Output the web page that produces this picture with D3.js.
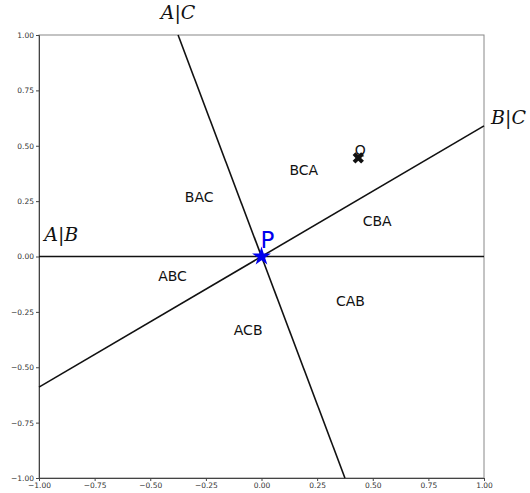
<!DOCTYPE html>
<html>
<head>
<meta charset="utf-8">
<script src="https://cdn.jsdelivr.net/npm/d3@7"></script>
<style>
body { margin: 0; background: #fff; }
svg text { font-family: "DejaVu Sans", sans-serif; }
.ax text { font-size: 7.5px; fill: #333; }
</style>
</head>
<body>
<div id="chart"></div>
<script>
// data
var ticks = [-1, -0.75, -0.5, -0.25, 0, 0.25, 0.5, 0.75, 1];
// separating lines, each as two end points
var lineNames = ['A|B', 'A|C', 'B|C'];
var lineEnds = [
    [[-1, 0], [1, 0]],
    [[-0.375, 1], [0.375, -1]],
    [[-1, -0.59], [1, 0.59]]
];
var regionNames = ['BAC', 'BCA', 'CBA', 'ABC', 'ACB', 'CAB'];
var regionPos = [[-0.28, 0.27], [0.19, 0.39], [0.52, 0.16], [-0.4, -0.09], [-0.06, -0.33], [0.4, -0.2]];
var pointP = [0, 0];
var pointQ = [0.435, 0.445];

var width = 530, height = 493;
var mLeft = 39, mRight = 484, mTop = 35, mBottom = 478;

var svg = d3.select('#chart').append('svg')
    .attr('width', width)
    .attr('height', height)

var x = d3.scaleLinear().domain([-1, 1]).range([mLeft, mRight]);
var y = d3.scaleLinear().domain([-1, 1]).range([mBottom, mTop]);

var fmt = d => d3.format('.2f')(d).replace('-', '\u2212');

// frame
svg.append('rect')
    .attr('x', mLeft).attr('y', mTop)
    .attr('width', mRight - mLeft).attr('height', mBottom - mTop)
    .attr('fill', 'none')
    .attr('stroke', '#888')
    .attr('stroke-width', 1)

// axes
svg.append('g').attr('class', 'ax')
    .attr('transform', 'translate(0,' + mBottom + ')')
    .call(d3.axisBottom(x).tickValues(ticks).tickFormat(fmt).tickSize(3).tickPadding(2))
svg.append('g').attr('class', 'ax')
    .attr('transform', 'translate(' + mLeft + ',0)')
    .call(d3.axisLeft(y).tickValues(ticks).tickFormat(fmt).tickSize(3).tickPadding(2))
svg.selectAll('.ax .domain').attr('stroke', '#444')
svg.selectAll('.ax .tick line').attr('stroke', '#444')

// lines
svg.selectAll('.sep')
    .data(lineEnds)
    .join('line')
    .attr('x1', d => x(d[0][0])).attr('y1', d => y(d[0][1]))
    .attr('x2', d => x(d[1][0])).attr('y2', d => y(d[1][1]))
    .attr('stroke', '#111')
    .attr('stroke-width', 1.6)

// line labels (math style)
var labelPos = [[-0.9, 0.07], [-0.375, 1.07], [1.11, 0.6]];
svg.selectAll('.linelabel')
    .data(lineNames)
    .join('text')
    .attr('x', (d, i) => x(labelPos[i][0]))
    .attr('y', (d, i) => y(labelPos[i][1]))
    .attr('text-anchor', 'middle')
    .style('font-family', '"DejaVu Serif", "Liberation Serif", serif')
    .style('font-style', 'italic')
    .style('font-size', '19px')
    .style('fill', '#111')
    .text(d => d)

// region labels
svg.selectAll('.region')
    .data(regionNames)
    .join('text')
    .attr('x', (d, i) => x(regionPos[i][0]))
    .attr('y', (d, i) => y(regionPos[i][1]))
    .attr('text-anchor', 'middle')
    .attr('dominant-baseline', 'central')
    .style('font-size', '14px')
    .style('fill', '#111')
    .text(d => d)

// P star
svg.append('path')
    .attr('d', d3.symbol().type(d3.symbolStar).size(110)())
    .attr('transform', 'translate(' + x(pointP[0]) + ',' + y(pointP[1]) + ')')
    .attr('fill', '#0000ee')
svg.append('text')
    .attr('x', x(pointP[0]) + 6)
    .attr('y', y(pointP[1]) - 9)
    .attr('text-anchor', 'middle')
    .style('font-size', '23px')
    .style('fill', '#0000ee')
    .text('P')

// Q marker
svg.append('path')
    .attr('d', d3.symbol().type(d3.symbolCross).size(80)())
    .attr('transform', 'translate(' + x(pointQ[0]) + ',' + y(pointQ[1]) + ') rotate(45)')
    .attr('fill', '#111')
svg.append('text')
    .attr('x', x(pointQ[0]) + 2)
    .attr('y', y(pointQ[1]) - 3)
    .attr('text-anchor', 'middle')
    .style('font-size', '14px')
    .style('fill', '#111')
    .text('Q')
</script>
</body>
</html>
